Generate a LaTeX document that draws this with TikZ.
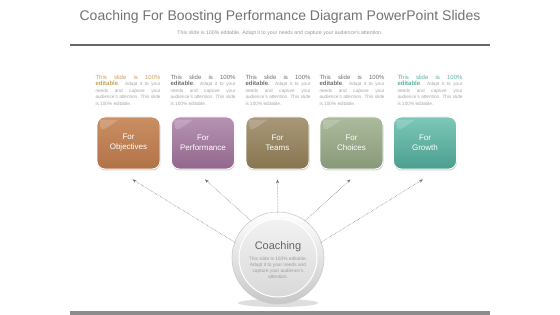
\documentclass[tikz,border=0pt]{standalone}
\usepackage{fontspec}
\setmainfont{Liberation Sans}
\usetikzlibrary{shadows,arrows.meta}
\definecolor{cA}{HTML}{C98F63}\definecolor{cAd}{HTML}{B27249}
\definecolor{cB}{HTML}{B793B3}\definecolor{cBd}{HTML}{92678D}
\definecolor{cC}{HTML}{A89878}\definecolor{cCd}{HTML}{887550}
\definecolor{cD}{HTML}{ABBB9C}\definecolor{cDd}{HTML}{88997A}
\definecolor{cE}{HTML}{7CC7B8}\definecolor{cEd}{HTML}{4B9F8F}
\definecolor{hA}{HTML}{C9A25E}\definecolor{hB}{HTML}{707070}\definecolor{hE}{HTML}{5DB3A3}
\tikzset{
  colbox/.style={rounded corners=8pt, minimum width=63pt, minimum height=52pt,
    draw=white, line width=0.8pt, text=white, align=center,
    font=\fontsize{8}{10}\selectfont, drop shadow={shadow xshift=0.5pt,shadow yshift=-1.5pt,opacity=0.35}},
  note/.style={text width=65pt, align=justify, font=\fontsize{4.7}{6.4}\selectfont, text=black!35, inner sep=0pt, anchor=north},
  link/.style={densely dotted, draw=black!55, line width=0.5pt, -{Stealth[length=4pt,width=3pt]}}
}
\newcommand{\notetext}[1]{\hyphenpenalty=10000 \exhyphenpenalty=10000 \relax{\color{#1}\fontsize{6}{6.4}\selectfont This slide is 100\% \textbf{editable}.} Adapt it to your needs and capture your audience's attention. This slide is 100\% editable.\par}
\begin{document}
\begin{tikzpicture}[x=1pt,y=-1pt]
\useasboundingbox (0,0) rectangle (560,315);
\fill[white] (0,0) rectangle (560,315);
% title
\node (title) at (280,17) {\fontsize{14}{16}\selectfont\color{black!55}Coaching For Boosting Performance Diagram PowerPoint Slides};
\node (sub) at (280,33) {\fontsize{5.2}{6}\selectfont\color{black!40}This slide is 100\% editable. Adapt it to your needs and capture your audience's attention.};
\fill[black!60] (70,44.5) rectangle (490,46.5);
\fill[black!45] (70,311) rectangle (490,315);
% notes
\node[note] (n1) at (128,75) {\notetext{hA}};
\node[note] (n2) at (203,75) {\notetext{hB}};
\node[note] (n3) at (278,75) {\notetext{hB}};
\node[note] (n4) at (352,75) {\notetext{hB}};
\node[note] (n5) at (430,75) {\notetext{hE}};
% boxes
\node[colbox, top color=cA, bottom color=cAd] (b1) at (128.5,143) {For\\Objectives};
\node[colbox, top color=cB, bottom color=cBd] (b2) at (203,143) {For\\Performance};
\node[colbox, top color=cC, bottom color=cCd] (b3) at (277.5,143) {For\\Teams};
\node[colbox, top color=cD, bottom color=cDd] (b4) at (351.5,143) {For\\Choices};
\node[colbox, top color=cE, bottom color=cEd] (b5) at (425,143) {For\\Growth};
\foreach \i in {1,...,5}{
  \fill[white,opacity=0.18] ([xshift=3pt,yshift=-3pt]b\i.north west) .. controls ([xshift=4pt,yshift=-16pt]b\i.north west) .. ([xshift=22pt,yshift=-3pt]b\i.north west) -- cycle;
}
% circle
\coordinate (cc) at (278,258);
\fill[black!25,opacity=0.5] (278,303) ellipse (40pt and 4pt);
\node[circle, minimum size=92pt, inner sep=0pt, draw=black!20, line width=0.6pt,
  top color=white, bottom color=black!22] (circ) at (cc) {};
\node[circle, minimum size=78pt, inner sep=0pt, draw=white, line width=1pt,
  top color=black!5, bottom color=black!15] (inner) at (cc) {};
\node (ctitle) at (278,247) {\fontsize{11}{12}\selectfont\color{black!60}Coaching};
\node[align=center, inner sep=0pt, font=\fontsize{4.8}{6}\selectfont, text=black!38] (ctext) at (278,268) {This slide is 100\% editable.\\Adapt it to your needs and\\capture your audience's\\attention.};
% connectors
\coordinate (s1) at (236,243);
\coordinate (s2) at (251,221);
\coordinate (s3) at (278,213);
\coordinate (s4) at (305,221);
\coordinate (s5) at (320,243);
\draw[link] (s1) -- ([xshift=4pt,yshift=-10pt]b1.south);
\draw[link] (s2) -- ([xshift=2pt,yshift=-10pt]b2.south);
\draw[link] (s3) -- ([yshift=-10pt]b3.south);
\draw[link] (s4) -- ([xshift=-1pt,yshift=-10pt]b4.south);
\draw[link] (s5) -- ([xshift=-2pt,yshift=-10pt]b5.south);
\end{tikzpicture}
\end{document}
